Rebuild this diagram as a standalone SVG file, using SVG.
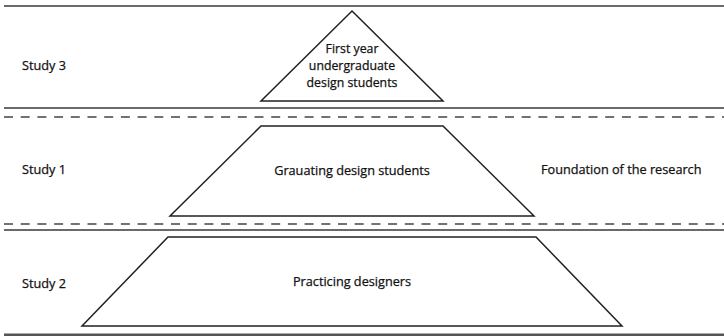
<svg xmlns="http://www.w3.org/2000/svg" width="724" height="336" viewBox="0 0 724 336">
<style>
.bg{fill:#fff}
.sep{stroke:#6a6a6a;stroke-width:2;fill:none}
.dash{stroke:#444;stroke-width:1.6;fill:none;stroke-dasharray:9 7.7}
.shape{fill:#fff;stroke:#222;stroke-width:1.5}
text{font-family:"Open Sans","Noto Sans",sans-serif;font-size:12.7px;fill:#111;stroke:#111;stroke-width:0.25}
.c{text-anchor:middle}
.s{font-size:12.3px}
</style>
<rect class="bg" x="0" y="0" width="724" height="336"/>
<g id="connectors">
<line class="sep" x1="4" y1="6" x2="724" y2="6"/>
<line class="sep" x1="4" y1="108" x2="724" y2="108"/>
<line class="dash" x1="4" y1="117" x2="724" y2="117"/>
<line class="dash" x1="4" y1="224" x2="724" y2="224"/>
<line class="sep" x1="4" y1="230" x2="724" y2="230"/>
<line class="sep" x1="4" y1="335" x2="724" y2="335" style="stroke-width:3;stroke:#555"/>
</g>
<g id="label-study3"><text x="22" y="70">Study 3</text></g>
<g id="label-study1"><text x="22" y="174">Study 1</text></g>
<g id="label-study2"><text x="22" y="288">Study 2</text></g>
<g id="label-foundation"><text x="541" y="174">Foundation of the research</text></g>
<g id="node-first-year">
<polygon class="shape" points="352,11 443,101 261,101"/>
<text class="c s" x="352" y="53">First year</text>
<text class="c s" x="352" y="70">undergraduate</text>
<text class="c s" x="352" y="87">design students</text>
</g>
<g id="node-graduating">
<polygon class="shape" points="261,126 443,126 534,216 170,216"/>
<text class="c" x="352" y="175">Grauating design students</text>
</g>
<g id="node-practicing">
<polygon class="shape" points="168,237 536,237 622,326 82,326"/>
<text class="c" x="352" y="286">Practicing designers</text>
</g>
</svg>
